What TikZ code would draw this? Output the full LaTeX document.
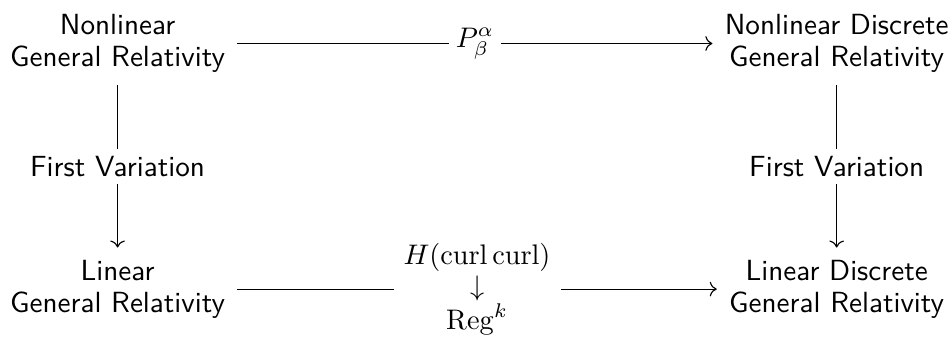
\documentclass[tikz,border=0pt]{standalone}
\usepackage{amsmath}
\usepackage{tikz}
\usetikzlibrary{arrows.meta}
\tikzset{
  obj/.style={font=\sffamily\fontsize{10.3}{11.3}\selectfont,align=center,inner sep=4.2pt},
  desc/.style={fill=white,inner sep=2.5pt,font=\sffamily\fontsize{10.3}{11.3}\selectfont},
  descm/.style={desc,align=center,inner xsep=3.5pt,font=\fontsize{10.3}{10.8}\selectfont},
}

\begin{document}
\begin{tikzpicture}[x=1mm,y=1mm,>={Computer Modern Rightarrow}]
  \useasboundingbox (0,0) rectangle (118.1,-42.5);
  \node[obj] (nl)  at (14.6,-5.4)   {Nonlinear\\General Relativity};
  \node[obj] (nld) at (103.9,-5.4)  {Nonlinear Discrete\\General Relativity};
  \node[obj] (l)   at (14.6,-35.9)  {Linear\\General Relativity};
  \node[obj] (ld)  at (103.9,-35.9) {Linear Discrete\\General Relativity};

  \draw[->] (nl) -- node[desc]{$P^{\alpha}_{\beta}$} (nld);
  \draw[->] (nl) -- node[desc]{First Variation} (l);
  \draw[->] (nld) -- node[desc]{First Variation} (ld);
  \draw[->] (l) -- node[descm]
    {$H(\mathrm{curl}\,\mathrm{curl})$\\$\downarrow$\\$\mathrm{Reg}^k$} (ld);
\end{tikzpicture}
\end{document}
